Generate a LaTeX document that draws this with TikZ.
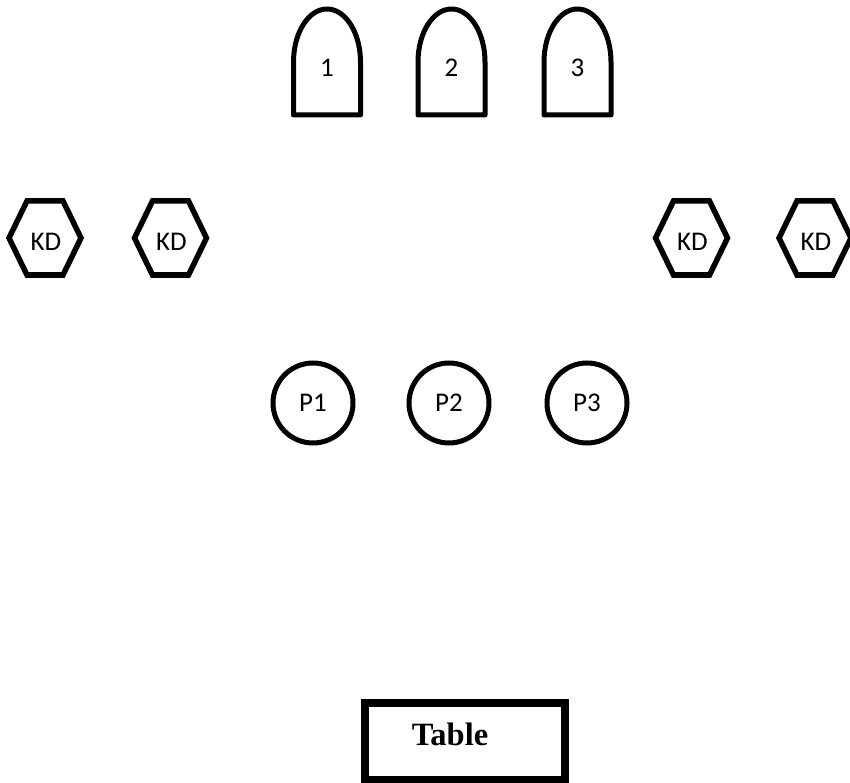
\documentclass[tikz,border=0pt]{standalone}
\usepackage{fontspec}
\setmainfont{Carlito}
\newfontfamily\timesfont{Liberation Serif}
\begin{document}
\begin{tikzpicture}[x=1pt,y=-1pt,
  archline/.style={line width=5pt, line join=round},
  hexline/.style={line width=5.5pt, line join=miter},
  circnode/.style={draw, circle, line width=5pt, minimum size=80pt, inner sep=0pt},
  tablebox/.style={draw, line width=8pt, minimum width=200pt, minimum height=77pt, inner sep=0pt},
  lbl/.style={font=\fontsize{27}{32}\selectfont, inner sep=0pt},
  tablelbl/.style={font=\timesfont\bfseries\fontsize{32.5}{38}\selectfont, inner sep=0pt}]
\useasboundingbox (0,0) rectangle (850,783);
% arches
\foreach \cx/\t [count=\i] in {327/1,451.5/2,577.5/3}{
  \draw[archline] (\cx-33.5,115) -- (\cx-33.5,62)
     arc[start angle=180, end angle=0, x radius=33.5pt, y radius=53pt]
     -- (\cx+33.5,115) -- cycle;
  \node[lbl] (arch\i) at (\cx,68) {\t};
}
% hexagons
\foreach \cx [count=\i] in {45,170.5,691.5,815}{
  \draw[hexline] (\cx-36,238) -- (\cx-18,201) -- (\cx+18,201) -- (\cx+36,238)
     -- (\cx+18,275) -- (\cx-18,275) -- cycle;
  \node[lbl] (kd\i) at (\cx+1,242) {KD};
}
% circles
\node[circnode, lbl] (p1) at (313,403) {P1};
\node[circnode, lbl] (p2) at (449,403) {P2};
\node[circnode, lbl] (p3) at (587,403) {P3};
% table
\node[tablebox] (table) at (465,741.5) {};
\node[tablelbl] (tabletext) at (450,734) {Table};
\end{tikzpicture}
\end{document}
